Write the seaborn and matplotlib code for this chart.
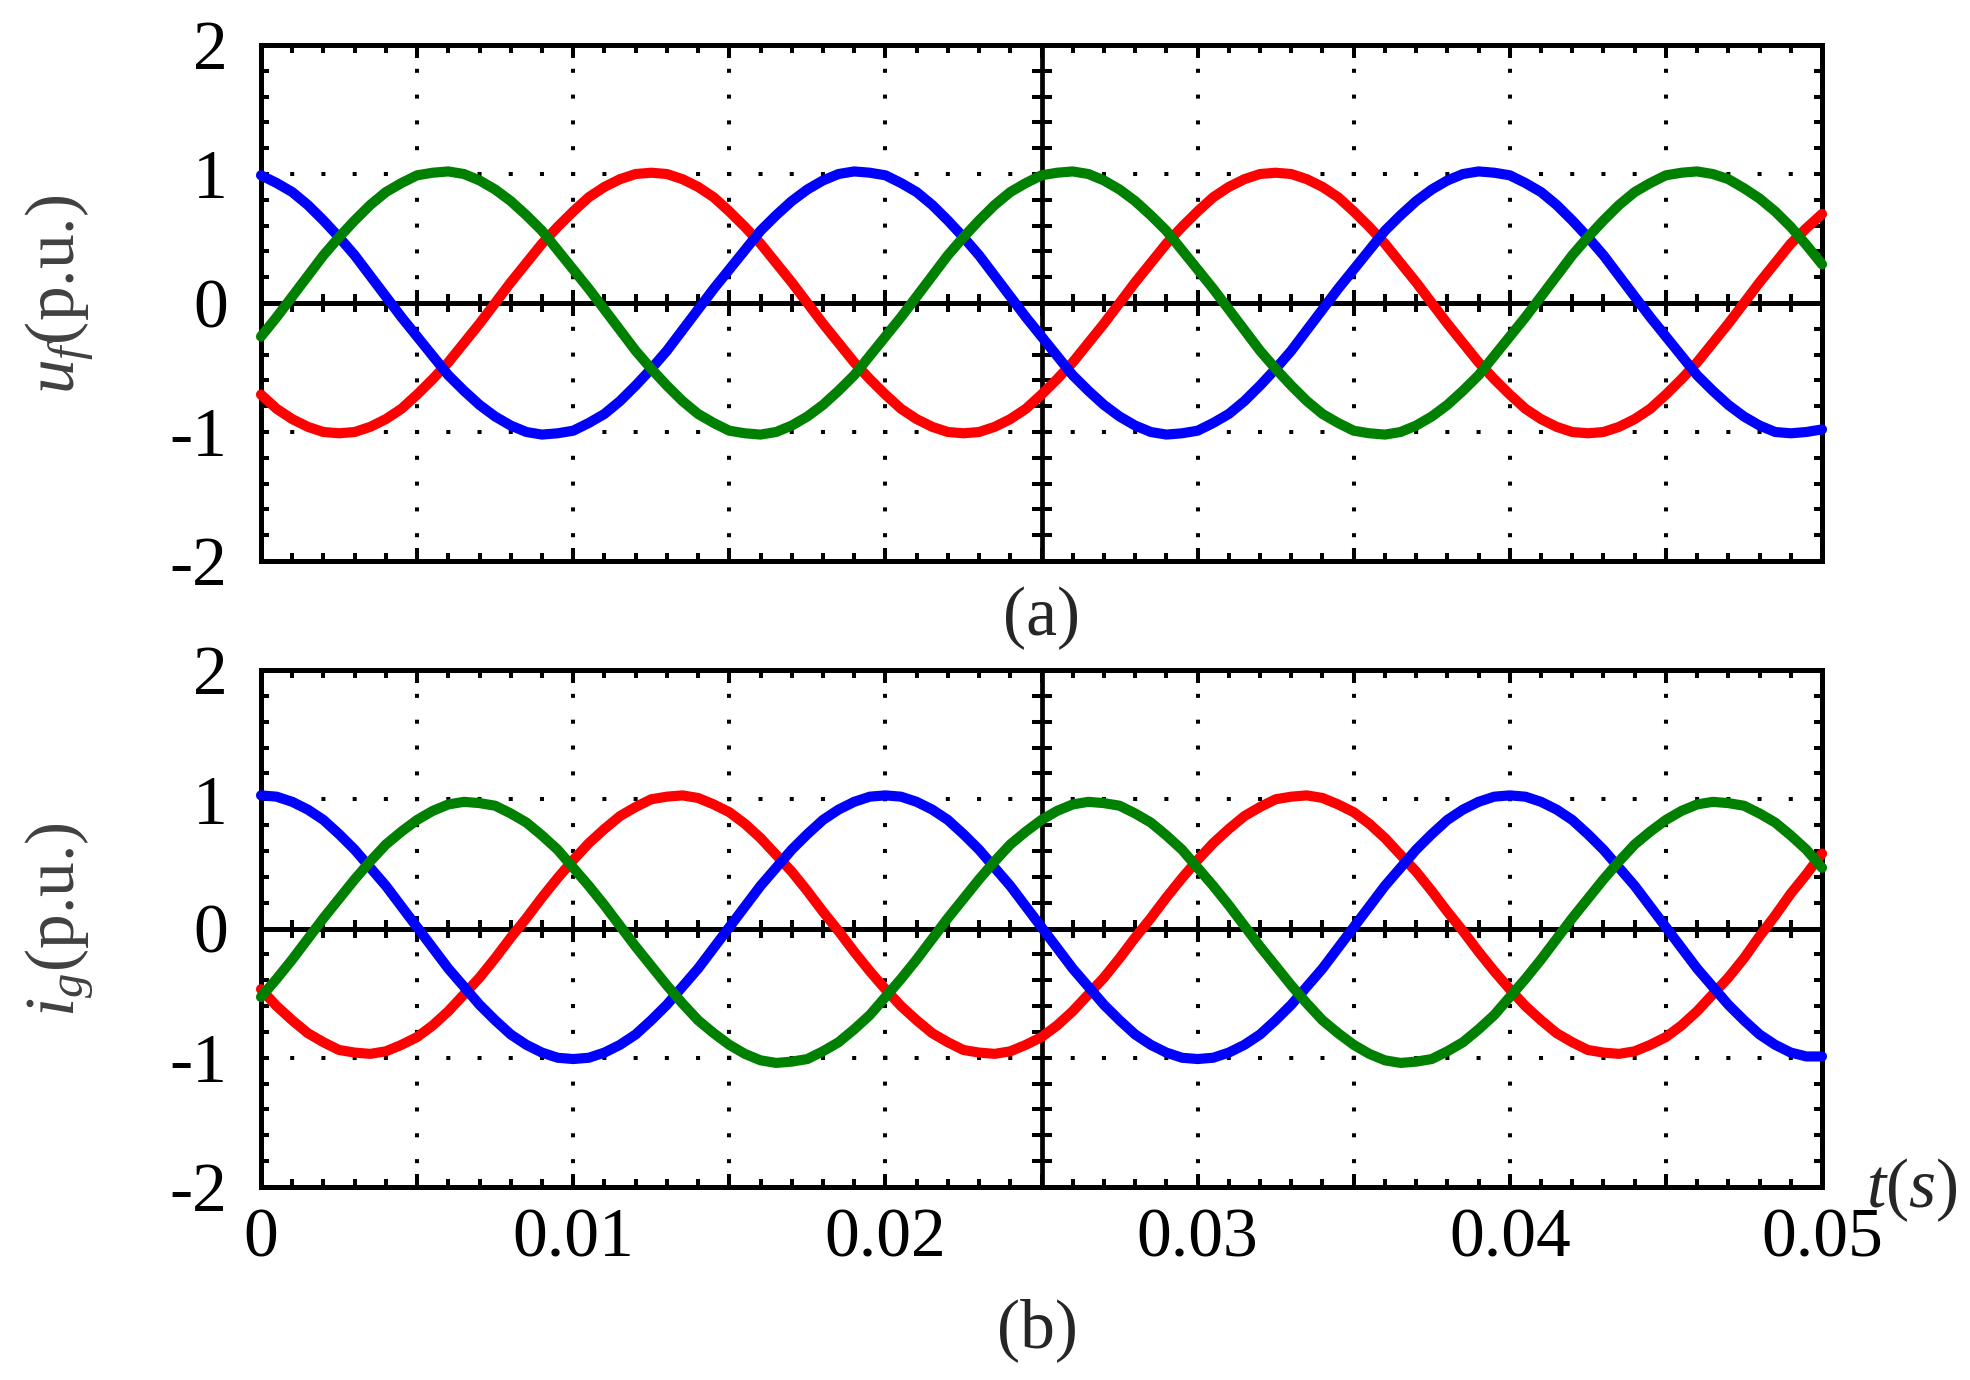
import numpy as np
import matplotlib
matplotlib.use("Agg")
import matplotlib.pyplot as plt
import seaborn as sns
from matplotlib.ticker import MultipleLocator

# time axis, one sample every 0.5 ms
time = np.linspace(0, 0.05, 101)

# (a) filter voltage u_f (p.u.)
u_red = [-0.71, -0.82, -0.90, -0.96, -1.00, -1.01, -1.00, -0.96, -0.90, -0.82,
         -0.71, -0.59, -0.46, -0.31, -0.16, 0.00, 0.16, 0.31, 0.46, 0.59,
         0.71, 0.82, 0.90, 0.96, 1.00, 1.01, 1.00, 0.96, 0.90, 0.82,
         0.71, 0.59, 0.46, 0.31, 0.16, 0.00, -0.16, -0.31, -0.46, -0.59,
         -0.71, -0.82, -0.90, -0.96, -1.00, -1.01, -1.00, -0.96, -0.90, -0.82,
         -0.71, -0.59, -0.46, -0.31, -0.16, 0.00, 0.16, 0.31, 0.46, 0.59,
         0.71, 0.82, 0.90, 0.96, 1.00, 1.01, 1.00, 0.96, 0.90, 0.82,
         0.71, 0.59, 0.46, 0.31, 0.16, 0.00, -0.16, -0.31, -0.46, -0.59,
         -0.71, -0.82, -0.90, -0.96, -1.00, -1.01, -1.00, -0.96, -0.90, -0.82,
         -0.71, -0.59, -0.46, -0.31, -0.16, 0.00, 0.16, 0.31, 0.46, 0.58,
         0.69]
u_blue = [0.99, 0.93, 0.86, 0.76, 0.64, 0.51, 0.37, 0.21, 0.05, -0.11,
          -0.26, -0.41, -0.56, -0.68, -0.79, -0.88, -0.95, -1.00, -1.02, -1.01,
          -0.99, -0.93, -0.86, -0.76, -0.64, -0.51, -0.37, -0.21, -0.05, 0.11,
          0.26, 0.41, 0.56, 0.68, 0.79, 0.88, 0.95, 1.00, 1.02, 1.01,
          0.99, 0.93, 0.86, 0.76, 0.64, 0.51, 0.37, 0.21, 0.05, -0.11,
          -0.26, -0.41, -0.56, -0.68, -0.79, -0.88, -0.95, -1.00, -1.02, -1.01,
          -0.99, -0.93, -0.86, -0.76, -0.64, -0.51, -0.37, -0.21, -0.05, 0.11,
          0.26, 0.41, 0.56, 0.68, 0.79, 0.88, 0.95, 1.00, 1.02, 1.01,
          0.99, 0.93, 0.86, 0.76, 0.64, 0.51, 0.37, 0.21, 0.05, -0.11,
          -0.26, -0.41, -0.56, -0.68, -0.79, -0.88, -0.95, -1.00, -1.01, -1.00,
          -0.98]
u_green = [-0.26, -0.11, 0.05, 0.21, 0.37, 0.51, 0.64, 0.76, 0.86, 0.93,
           0.99, 1.01, 1.02, 1.00, 0.95, 0.88, 0.79, 0.68, 0.56, 0.41,
           0.26, 0.11, -0.05, -0.21, -0.37, -0.51, -0.64, -0.76, -0.86, -0.93,
           -0.99, -1.01, -1.02, -1.00, -0.95, -0.88, -0.79, -0.68, -0.56, -0.41,
           -0.26, -0.11, 0.05, 0.21, 0.37, 0.51, 0.64, 0.76, 0.86, 0.93,
           0.99, 1.01, 1.02, 1.00, 0.95, 0.88, 0.79, 0.68, 0.56, 0.41,
           0.26, 0.11, -0.05, -0.21, -0.37, -0.51, -0.64, -0.76, -0.86, -0.93,
           -0.99, -1.01, -1.02, -1.00, -0.95, -0.88, -0.79, -0.68, -0.56, -0.41,
           -0.26, -0.11, 0.05, 0.21, 0.37, 0.51, 0.64, 0.76, 0.86, 0.93,
           0.99, 1.01, 1.02, 1.00, 0.96, 0.89, 0.81, 0.71, 0.59, 0.45,
           0.30]

# (b) grid current i_g (p.u.)
i_red = [-0.47, -0.60, -0.71, -0.81, -0.88, -0.94, -0.96, -0.97, -0.95, -0.90,
         -0.84, -0.75, -0.64, -0.51, -0.38, -0.23, -0.07, 0.08, 0.24, 0.39,
         0.53, 0.66, 0.77, 0.87, 0.94, 1.00, 1.02, 1.03, 1.01, 0.96,
         0.90, 0.81, 0.70, 0.57, 0.44, 0.29, 0.13, -0.02, -0.18, -0.33,
         -0.47, -0.60, -0.71, -0.81, -0.88, -0.94, -0.96, -0.97, -0.95, -0.90,
         -0.84, -0.75, -0.64, -0.51, -0.38, -0.23, -0.07, 0.08, 0.24, 0.39,
         0.53, 0.66, 0.77, 0.87, 0.94, 1.00, 1.02, 1.03, 1.01, 0.96,
         0.90, 0.81, 0.70, 0.57, 0.44, 0.29, 0.13, -0.02, -0.18, -0.33,
         -0.47, -0.60, -0.71, -0.81, -0.88, -0.94, -0.96, -0.97, -0.95, -0.90,
         -0.84, -0.75, -0.64, -0.51, -0.38, -0.23, -0.06, 0.10, 0.27, 0.42,
         0.58]
i_blue = [1.03, 1.02, 0.98, 0.92, 0.84, 0.73, 0.61, 0.47, 0.33, 0.17,
          0.01, -0.15, -0.31, -0.45, -0.59, -0.71, -0.82, -0.90, -0.96, -1.00,
          -1.01, -1.00, -0.96, -0.90, -0.82, -0.71, -0.59, -0.45, -0.31, -0.15,
          0.01, 0.17, 0.33, 0.47, 0.61, 0.73, 0.84, 0.92, 0.98, 1.02,
          1.03, 1.02, 0.98, 0.92, 0.84, 0.73, 0.61, 0.47, 0.33, 0.17,
          0.01, -0.15, -0.31, -0.45, -0.59, -0.71, -0.82, -0.90, -0.96, -1.00,
          -1.01, -1.00, -0.96, -0.90, -0.82, -0.71, -0.59, -0.45, -0.31, -0.15,
          0.01, 0.17, 0.33, 0.47, 0.61, 0.73, 0.84, 0.92, 0.98, 1.02,
          1.03, 1.02, 0.98, 0.92, 0.84, 0.73, 0.61, 0.47, 0.33, 0.17,
          0.01, -0.15, -0.31, -0.45, -0.59, -0.71, -0.82, -0.90, -0.96, -0.99,
          -0.99]
i_green = [-0.53, -0.39, -0.24, -0.08, 0.08, 0.23, 0.38, 0.52, 0.65, 0.75,
           0.84, 0.91, 0.96, 0.98, 0.97, 0.95, 0.89, 0.82, 0.72, 0.61,
           0.47, 0.33, 0.18, 0.02, -0.14, -0.29, -0.44, -0.58, -0.71, -0.81,
           -0.90, -0.97, -1.02, -1.04, -1.03, -1.01, -0.95, -0.88, -0.78, -0.67,
           -0.53, -0.39, -0.24, -0.08, 0.08, 0.23, 0.38, 0.52, 0.65, 0.75,
           0.84, 0.91, 0.96, 0.98, 0.97, 0.95, 0.89, 0.82, 0.72, 0.61,
           0.47, 0.33, 0.18, 0.02, -0.14, -0.29, -0.44, -0.58, -0.71, -0.81,
           -0.90, -0.97, -1.02, -1.04, -1.03, -1.01, -0.95, -0.88, -0.78, -0.67,
           -0.53, -0.39, -0.24, -0.08, 0.08, 0.23, 0.38, 0.52, 0.65, 0.75,
           0.84, 0.91, 0.96, 0.98, 0.97, 0.95, 0.89, 0.82, 0.72, 0.61,
           0.47]

x_ticks = [0, 0.005, 0.01, 0.015, 0.02, 0.025, 0.03, 0.035, 0.04, 0.045, 0.05]
x_tick_labels = ["0", "", "0.01", "", "0.02", "", "0.03", "", "0.04", "", "0.05"]
y_ticks = [-2, -1, 0, 1, 2]
y_tick_labels = ["-2", "-1", "0", "1", "2"]

sns.set_style("ticks")
plt.rcParams["font.family"] = ["Liberation Serif", "DejaVu Serif"]
plt.rcParams["mathtext.fontset"] = "custom"
plt.rcParams["mathtext.rm"] = "Liberation Serif"
plt.rcParams["mathtext.it"] = "Liberation Serif:italic"
plt.rcParams["axes.unicode_minus"] = False
plt.rcParams["lines.scale_dashes"] = False

W, H = 1970, 1380
fig = plt.figure(figsize=(W / 100, H / 100), dpi=100)
ax_a = fig.add_axes([261 / W, 1 - 561 / H, 1561 / W, 516 / H])
ax_b = fig.add_axes([261 / W, 1 - 1187 / H, 1561 / W, 517 / H])


def style_axes(ax, height_px):
    ax.set_xlim(0, 0.05)
    ax.set_ylim(-2, 2)
    ax.set_xticks(x_ticks, x_tick_labels)
    ax.set_yticks(y_ticks, y_tick_labels)
    ax.xaxis.set_minor_locator(MultipleLocator(0.001))
    ax.yaxis.set_minor_locator(MultipleLocator(0.2))
    ax.tick_params(which="both", direction="in", top=True, right=True,
                   width=2.9, color="black", labelsize=50, labelcolor="black")
    ax.tick_params(which="minor", length=5.8)
    ax.tick_params(axis="x", which="major", length=9.5, pad=15)
    ax.tick_params(axis="y", which="major", length=5.8, pad=24)
    for sp in ax.spines.values():
        sp.set_visible(True)
        sp.set_linewidth(3.6)
        sp.set_color("black")

    # dotted grid, one dot per minor tick
    xgap = 1561 / 50 * 0.72
    ygap = height_px / 20 * 0.72
    ax.xaxis.grid(True, which="major", color="black", linewidth=2.9,
                  linestyle=(1.45, (2.9, ygap - 2.9)))
    ax.yaxis.grid(True, which="major", color="black", linewidth=2.9,
                  linestyle=(1.45, (2.9, xgap - 2.9)))

    # centre cross with its own ticks
    ax.axhline(0, color="black", lw=3.6, zorder=2.6)
    ax.axvline(0.025, color="black", lw=3.4, zorder=2.6)
    xm = np.arange(1, 50) * 0.001
    is_major = np.isclose((xm / 0.005) % 1, 0) | np.isclose((xm / 0.005) % 1, 1)
    ax.plot(xm[~is_major], np.zeros((~is_major).sum()), ls="none", marker="|",
            ms=13, mew=2.9, color="black", zorder=2.6)
    ax.plot(xm[is_major], np.zeros(is_major.sum()), ls="none", marker="|",
            ms=19, mew=2.9, color="black", zorder=2.6)
    ym = np.arange(-9, 10) * 0.2
    ym = ym[~np.isclose(ym, 0)]
    ax.plot(np.full(len(ym), 0.025), ym, ls="none", marker="_",
            ms=15, mew=2.9, color="black", zorder=2.6)
    ax.set_xlim(0, 0.05)
    ax.set_ylim(-2, 2)


def draw_phases(ax, red, blue, green):
    for vals, col in [(red, "#ff0000"), (blue, "#0000ff"), (green, "#008000")]:
        sns.lineplot(x=time, y=vals, color=col, lw=7.3, ax=ax,
                     zorder=3, clip_on=False, solid_capstyle="round",
                     solid_joinstyle="round")


draw_phases(ax_a, u_red, u_blue, u_green)
draw_phases(ax_b, i_red, i_blue, i_green)
style_axes(ax_a, 516)
style_axes(ax_b, 517)
ax_a.tick_params(axis="x", labelbottom=False)
for ax in (ax_a, ax_b):
    ax.set_xlabel("")
    ax.set_ylabel("")

lab_color = "#404040"
fig.text(60 / W, 1 - 294 / H, r"$u_f$(p.u.)", rotation=90, ha="center",
         va="center", fontsize=50, color=lab_color)
fig.text(60 / W, 1 - 920 / H, r"$i_g$(p.u.)", rotation=90, ha="center",
         va="center", fontsize=50, color=lab_color)
fig.text(1042 / W, 1 - 618 / H, "(a)", ha="center", va="center", fontsize=50)
fig.text(1037 / W, 1 - 1330 / H, "(b)", ha="center", va="center", fontsize=50)
fig.text(1912 / W, 1 - 1190 / H, r"$t$($s$)", ha="center", va="center",
         fontsize=50)

fig.savefig("out.png", dpi=100)
